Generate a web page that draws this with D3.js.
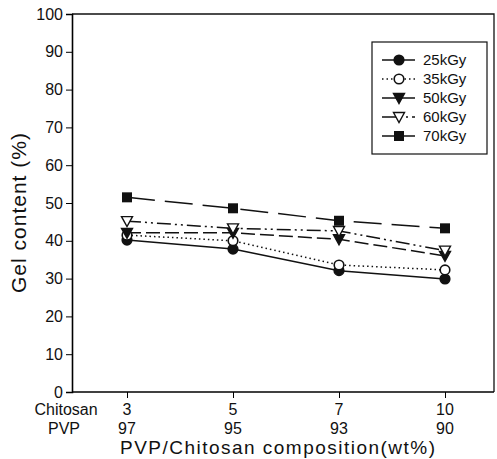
<!DOCTYPE html>
<html>
<head>
<meta charset="utf-8">
<script src="https://cdn.jsdelivr.net/npm/d3@7"></script>
<style>
body { margin: 0; background: #fff; }
text { font-family: "Liberation Sans", Arial, sans-serif; fill: #111; }
</style>
</head>
<body>
<div id="chart"></div>
<script>
var w = 497;
var h = 459;

// data
var chitosan = ["3", "5", "7", "10"];
var pvp = ["97", "95", "93", "90"];
var doses = ["25kGy", "35kGy", "50kGy", "60kGy", "70kGy"];
var gel25 = [40.2, 37.8, 32.1, 29.9];
var gel35 = [41.5, 40.0, 33.6, 32.3];
var gel50 = [42.1, 42.1, 40.4, 36.0];
var gel60 = [45.2, 43.3, 42.6, 37.4];
var gel70 = [51.5, 48.6, 45.3, 43.3];
var yTicks = [0, 10, 20, 30, 40, 50, 60, 70, 80, 90, 100];

var series = [
    { name: doses[0], values: gel25, marker: "circle", fill: "#111", dash: null, legDash: null },
    { name: doses[1], values: gel35, marker: "circle", fill: "#fff", dash: "1.5,3", legDash: "1.5,3" },
    { name: doses[2], values: gel50, marker: "tri", fill: "#111", dash: "14,5", legDash: null },
    { name: doses[3], values: gel60, marker: "tri", fill: "#fff", dash: "14,4,2,4,2,4", legDash: "14,4,2,4,2,4" },
    { name: doses[4], values: gel70, marker: "square", fill: "#111", dash: "28,10", legDash: null }
];

var mLeft = 72, mRight = 494, mTop = 14, mBottom = 392;

var svg = d3.select("#chart")
    .append("svg")
    .attr("width", w)
    .attr("height", h);

var x = d3.scalePoint().domain(chitosan).range([127, 445]);
var y = d3.scaleLinear().domain([0, 100]).range([mBottom, mTop]);

// frame (top and right)
svg.append("path")
    .attr("d", "M" + mLeft + "," + mTop + "H" + mRight + "V" + mBottom)
    .attr("fill", "none")
    .attr("stroke", "#111")
    .attr("stroke-width", 1.3);

// y axis
var yAxis = svg.append("g")
    .attr("transform", "translate(" + mLeft + ",0)")
    .call(d3.axisLeft(y).tickValues(yTicks).tickSize(6).tickPadding(3));
yAxis.select(".domain").attr("stroke-width", 1.6);
yAxis.selectAll("text").style("font-size", "16px").attr("font-family", null);

// x axis
var xAxis = svg.append("g")
    .attr("transform", "translate(0," + mBottom + ")")
    .call(d3.axisBottom(x).tickSize(6).tickFormat(""));
xAxis.select(".domain").attr("d", "M" + mLeft + ",0H" + mRight).attr("stroke-width", 1.6);

// two-row category labels
svg.selectAll(".lab1").data(chitosan).enter().append("text")
    .attr("x", function(d) { return x(d); })
    .attr("y", 415)
    .attr("text-anchor", "middle")
    .style("font-size", "16px")
    .text(function(d) { return d; });
svg.selectAll(".lab2").data(chitosan).enter().append("text")
    .attr("x", function(d) { return x(d); })
    .attr("y", 434)
    .attr("text-anchor", "middle")
    .style("font-size", "16px")
    .text(function(d, i) { return pvp[i]; });
svg.append("text").attr("x", 66).attr("y", 415).attr("text-anchor", "middle")
    .style("font-size", "16px").text("Chitosan");
svg.append("text").attr("x", 64).attr("y", 434).attr("text-anchor", "middle")
    .style("font-size", "16px").text("PVP");

// axis titles
svg.append("text")
    .attr("x", 120).attr("y", 454)
    .attr("textLength", 315)
    .style("font-size", "19px")
    .text("PVP/Chitosan composition(wt%)");
svg.append("text")
    .attr("transform", "translate(26,293) rotate(-90)")
    .attr("textLength", 160)
    .style("font-size", "21px")
    .text("Gel content (%)");

function drawMarker(g, s, cx, cy) {
    if (s.marker == "circle") {
        g.append("circle").attr("cx", cx).attr("cy", cy).attr("r", 4.8)
            .attr("fill", s.fill).attr("stroke", "#111").attr("stroke-width", 1.6);
    } else if (s.marker == "square") {
        g.append("rect").attr("x", cx - 5).attr("y", cy - 5).attr("width", 10).attr("height", 10)
            .attr("fill", s.fill);
    } else {
        g.append("path")
            .attr("d", "M" + (cx - 5.5) + "," + (cy - 4.5) + "H" + (cx + 5.5) + "L" + cx + "," + (cy + 5.5) + "Z")
            .attr("fill", s.fill).attr("stroke", "#111").attr("stroke-width", 1.4);
    }
}

var line = d3.line()
    .x(function(d, i) { return x(chitosan[i]); })
    .y(function(d) { return y(d); });

series.forEach(function(s) {
    svg.append("path")
        .attr("d", line(s.values))
        .attr("fill", "none")
        .attr("stroke", "#111")
        .attr("stroke-width", 1.5)
        .attr("stroke-dasharray", s.dash);
});
series.forEach(function(s) {
    var g = svg.append("g");
    s.values.forEach(function(v, i) { drawMarker(g, s, x(chitosan[i]), y(v)); });
});

// legend
var lg = svg.append("g");
lg.append("rect").attr("x", 372).attr("y", 42).attr("width", 115).attr("height", 112)
    .attr("fill", "#fff").attr("stroke", "#111").attr("stroke-width", 1.2);
series.forEach(function(s, i) {
    var ly = 60 + i * 19;
    lg.append("line").attr("x1", 382).attr("x2", 415).attr("y1", ly).attr("y2", ly)
        .attr("stroke", "#111").attr("stroke-width", 1.5)
        .attr("stroke-dasharray", s.legDash);
    drawMarker(lg, s, 399, ly);
    lg.append("text").attr("x", 423).attr("y", ly + 5)
        .style("font-size", "15px")
        .text(s.name);
});
</script>
</body>
</html>
